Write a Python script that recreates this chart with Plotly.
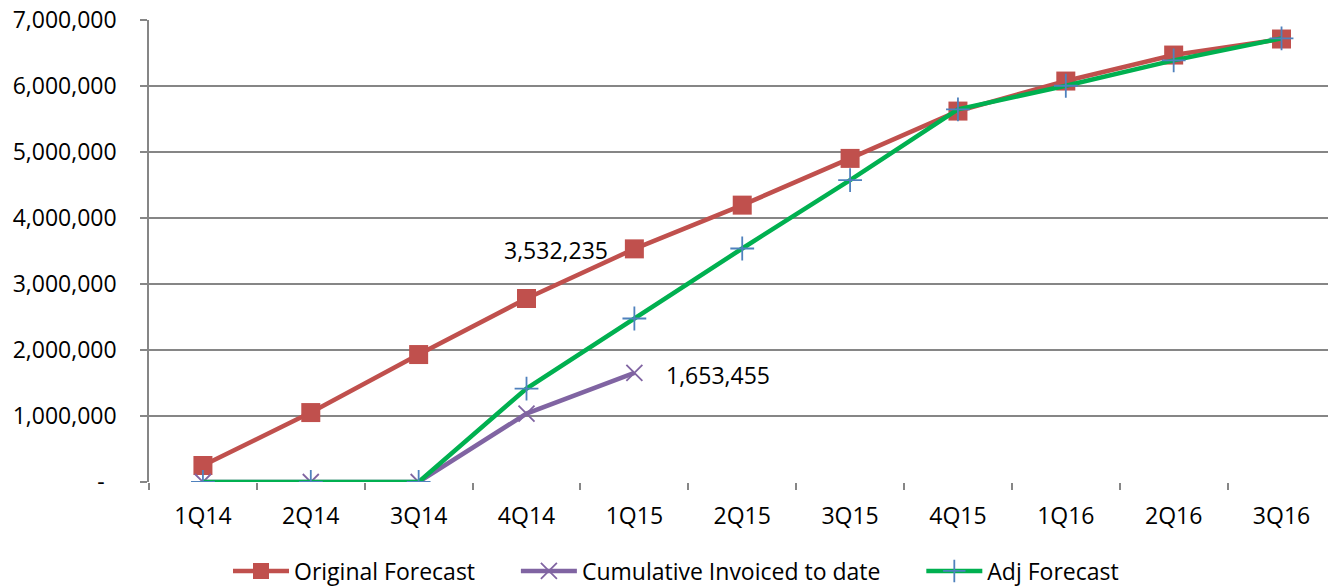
import plotly.graph_objects as go

quarters = ["1Q14", "2Q14", "3Q14", "4Q14", "1Q15", "2Q15", "3Q15", "4Q15", "1Q16", "2Q16", "3Q16"]
original_forecast = [250000, 1052000, 1931000, 2780000, 3532235, 4195000, 4903000, 5620000, 6075000, 6469000, 6712000]
cumulative_invoiced = [0, 0, 0, 1037000, 1653455]
adj_forecast = [0, 0, 0, 1416000, 2477000, 3538000, 4574000, 5646000, 6004000, 6389000, 6722000]
y_ticks = [0, 1000000, 2000000, 3000000, 4000000, 5000000, 6000000, 7000000]
y_tick_labels = ["-\u00a0\u00a0"] + [f"{v:,}" for v in y_ticks[1:]]
series_names = ["Original Forecast", "Cumulative Invoiced to date", "Adj Forecast"]

FONT = "Open Sans"
FS = 23
RED = "#C0504D"
PURPLE = "#8064A2"
GREEN = "#00B050"
BLUE = "#4F81BD"
PAD = "\u00a0" * 6

fig = go.Figure()
fig.add_trace(go.Scatter(
    x=quarters, y=original_forecast, name=series_names[0] + PAD, mode="lines+markers",
    line=dict(color=RED, width=4.5),
    marker=dict(symbol="square", size=19, color=RED),
))
fig.add_trace(go.Scatter(
    x=quarters[:len(cumulative_invoiced)], y=cumulative_invoiced, name=series_names[1] + PAD,
    mode="lines+markers",
    line=dict(color=PURPLE, width=4.5),
    marker=dict(symbol="x-thin", size=16, color=PURPLE, line=dict(color=PURPLE, width=1.8)),
))
fig.add_trace(go.Scatter(
    x=quarters, y=adj_forecast, name=series_names[2], mode="lines+markers",
    line=dict(color=GREEN, width=4.5),
    marker=dict(symbol="cross-thin", size=17, color=BLUE, line=dict(color=BLUE, width=1.8)),
))

fig.add_annotation(x=quarters[4], y=original_forecast[4], text=f"{original_forecast[4]:,}",
                   showarrow=False, xanchor="right", xshift=-24, yshift=-1,
                   font=dict(family=FONT, size=FS, color="#000000"))
fig.add_annotation(x=quarters[4], y=cumulative_invoiced[4], text=f"{cumulative_invoiced[4]:,}",
                   showarrow=False, xanchor="left", xshift=30, yshift=-2,
                   font=dict(family=FONT, size=FS, color="#000000"))

fig.update_layout(
    width=1328, height=587,
    margin=dict(l=149, r=0, t=20, b=105, autoexpand=False),
    paper_bgcolor="white", plot_bgcolor="white",
    font=dict(family=FONT, size=FS, color="#000000"),
    showlegend=True,
    legend=dict(orientation="h", xref="container", x=228 / 1328, xanchor="left",
                yref="container", y=(587 - 571) / 587, yanchor="middle",
                font=dict(family=FONT, size=FS), itemwidth=56, tracegroupgap=0),
    xaxis=dict(
        type="category", categoryorder="array", categoryarray=quarters,
        range=[-0.5, -0.5 + 1179 / 107.86],
        showgrid=False, showline=False, zeroline=False, automargin=False,
        ticks="outside", ticklen=7, tickcolor="#868686", tickwidth=1.5,
        tickson="boundaries", ticklabelstandoff=18, tickfont=dict(family=FONT, size=FS),
    ),
    yaxis=dict(
        range=[0, 7000000], tickvals=y_ticks, ticktext=y_tick_labels,
        showgrid=True, gridcolor="#868686", gridwidth=1.5,
        showline=True, linecolor="#868686", linewidth=1.5,
        zeroline=False, automargin=False,
        ticks="outside", ticklen=7, tickcolor="#868686", tickwidth=1.5,
        ticklabelstandoff=19, tickfont=dict(family=FONT, size=FS),
    ),
)
fig.write_html("out.html")
